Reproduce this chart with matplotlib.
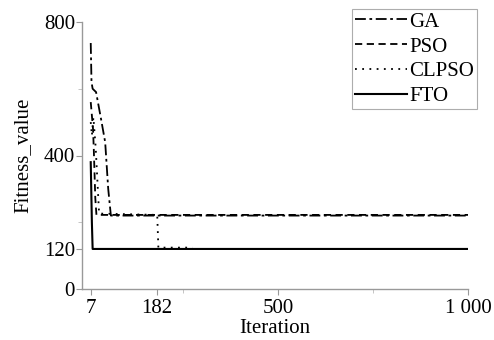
import matplotlib
matplotlib.use("Agg")
import matplotlib.pyplot as plt
from matplotlib.ticker import FixedLocator, FixedFormatter

plt.rcParams['font.family'] = ['Liberation Serif', 'DejaVu Serif']

# Data
ga_it = [7, 9, 12, 21, 34, 45, 53, 60, 1000]
ga_val = [737, 620, 600, 590, 510, 440, 300, 220, 220]

pso_it = [7, 10, 13, 15, 19, 22, 1000]
pso_val = [560, 520, 480, 420, 272, 222, 222]

clpso_it = [7, 10, 14, 20, 29, 182, 185, 275]
clpso_val = [500, 460, 514, 424, 226, 222, 124, 124]

fto_it = [7, 10, 12, 1000]
fto_val = [380, 200, 120, 120]

series_labels = ['GA', 'PSO', 'CLPSO', 'FTO']
xticks = [7, 182, 500, 1000]
xtick_labels = ['7', '182', '500', '1 000']
xminor = [250, 750]
yticks = [0, 120, 400, 800]
ytick_labels = ['0', '120', '400', '800']
yminor = [200, 600]

fig = plt.figure(figsize=(4.94, 3.40), dpi=100)
ax = fig.add_axes([82/494, 51/340, (468-82)/494, (289-22)/340])

lw = 1.3
ax.plot(ga_it, ga_val, color='black', lw=lw, linestyle=(0, (6, 2, 1.5, 2)), label=series_labels[0])
ax.plot(pso_it, pso_val, color='black', lw=lw, linestyle=(0, (4, 2.5)), label=series_labels[1])
ax.plot(clpso_it, clpso_val, color='black', lw=lw, linestyle=(0, (1, 3)), label=series_labels[2])
ax.plot(fto_it, fto_val, color='black', lw=1.5, linestyle='-', label=series_labels[3])

ax.set_xlim(-16, 1000)
ax.set_ylim(0, 800)

ax.xaxis.set_major_locator(FixedLocator(xticks))
ax.xaxis.set_major_formatter(FixedFormatter(xtick_labels))
ax.xaxis.set_minor_locator(FixedLocator(xminor))
ax.yaxis.set_major_locator(FixedLocator(yticks))
ax.yaxis.set_major_formatter(FixedFormatter(ytick_labels))
ax.yaxis.set_minor_locator(FixedLocator(yminor))

for s in ['top', 'right']:
    ax.spines[s].set_visible(False)
for s in ['left', 'bottom']:
    ax.spines[s].set_color('#999999')
    ax.spines[s].set_linewidth(1.0)

ax.tick_params(axis='both', which='major', direction='out', length=4, width=0.8,
               color='#999999', labelsize=15)
ax.tick_params(axis='y', which='major', pad=1)
ax.tick_params(axis='x', which='major', pad=3)
ax.tick_params(axis='both', which='minor', direction='out', length=3, width=0.6,
               color='#bbbbbb')

ax.set_xlabel('Iteration', fontsize=15, labelpad=1)
ax.set_ylabel('Fitness_value', fontsize=15, labelpad=8)

leg = fig.legend(loc='upper right', bbox_to_anchor=(477/494, 1 - 9/340),
                 fontsize=15, handlelength=2.5, handletextpad=0.1,
                 labelspacing=0.25, borderpad=0.15, fancybox=False,
                 frameon=True, borderaxespad=0)
leg.get_frame().set_edgecolor('#999999')
leg.get_frame().set_linewidth(0.8)

fig.savefig('out.png', dpi=100)
